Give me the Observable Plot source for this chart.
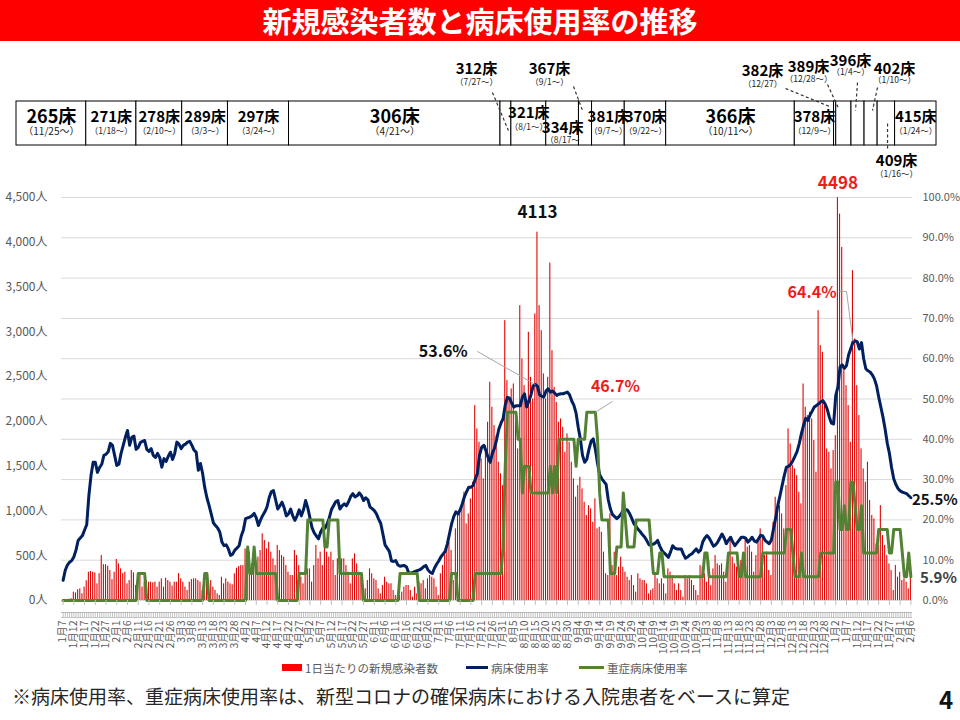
<!DOCTYPE html>
<html><head><meta charset="utf-8">
<script src="https://cdn.jsdelivr.net/npm/d3@7"></script>
<script src="https://cdn.jsdelivr.net/npm/@observablehq/plot@0.6"></script>
<style>
body{margin:0;background:#fff;font-family:"Noto Sans CJK JP","Noto Sans",sans-serif;}
#page{position:relative;width:960px;height:720px;overflow:hidden;background:#fff;}
#banner{position:absolute;left:0;top:0;width:960px;height:41px;background:#ff0000;color:#fff;font-weight:700;font-size:29px;line-height:41px;text-align:center;}
#table{position:absolute;left:0;top:50px;}
#chart{position:absolute;left:0;top:170px;}
.sw{position:absolute;}
.lt{position:absolute;top:660px;font-size:11.5px;line-height:16px;color:#595959;white-space:nowrap;}
#note{position:absolute;left:12px;top:683px;font-size:19px;line-height:26px;color:#262626;white-space:nowrap;}
#pno{position:absolute;left:939px;top:684px;font-size:24px;line-height:30px;font-weight:700;color:#111;}
</style></head>
<body>
<div id="page">
  <div id="banner">新規感染者数と病床使用率の推移</div>
  <div id="table"></div>
  <div id="chart"></div>
  <div class="sw" style="left:282px;top:664px;width:20px;height:7px;background:#ff0000"></div>
  <div class="lt" style="left:305px">1日当たりの新規感染者数</div>
  <div class="sw" style="left:466px;top:666px;width:22px;height:3px;background:#002060"></div>
  <div class="lt" style="left:491px">病床使用率</div>
  <div class="sw" style="left:579px;top:666px;width:25px;height:3px;background:#548235"></div>
  <div class="lt" style="left:607px">重症病床使用率</div>
  <div id="note">※病床使用率、重症病床使用率は、新型コロナの確保病床における入院患者をベースに算定</div>
  <div id="pno">4</div>
</div>
<script>
// ---------------- data ----------------
const firstDay = "2021-01-07";
// 1日当たりの新規感染者数 (daily, from 2021-01-07 to 2022-02-06)
const newCases = [
8,12,10,15,20,93,85,120,130,75,
150,220,316,324,316,309,186,300,502,400,
400,383,335,234,316,458,409,353,300,316,
186,223,335,309,167,260,300,150,205,223,
205,205,198,205,150,205,242,150,250,223,
205,160,205,205,300,242,205,150,112,205,
234,242,242,223,205,112,279,205,212,223,
150,112,74,56,260,186,242,205,186,175,
298,360,380,390,390,577,558,540,409,595,
446,484,558,744,670,577,651,540,465,390,
614,558,502,484,390,316,279,279,558,502,
390,260,186,335,353,353,205,390,614,465,
540,390,614,540,484,540,446,279,465,651,
465,465,390,316,186,465,521,409,316,260,
167,130,223,353,298,242,223,130,74,167,
260,205,186,186,112,56,37,
56,93,149,167,167,112,37,149,74,205,
186,223,130,242,279,260,242,149,56,298,
390,540,577,651,558,223,800,967,1004,1060,
1209,856,967,1135,1321,2176,1916,1767,1581,1358,
1730,1990,2437,2158,1953,1841,1544,1414,1283,3125,
2455,2250,2362,2418,2027,1693,3292,2697,2399,2176,
2995,2492,2250,3199,4113,3292,3013,2530,2250,2492,
3768,2790,2381,2213,1990,2027,1934,1655,1860,1767,
1544,1358,1153,1283,1376,1246,1097,949,1060,1023,874,
1135,800,818,763,540,298,279,967,390,540,
279,372,484,372,316,260,223,279,167,93,
298,242,223,223,186,74,112,130,279,242,
186,242,186,74,353,316,279,186,112,186,
112,37,279,242,279,223,167,112,56,390,
372,298,205,446,167,353,502,409,390,409,
316,205,390,688,484,409,372,260,446,390,
688,595,614,540,316,502,670,800,707,
502,540,335,279,874,1153,1042,1060,967,800,
1283,1916,1748,1507,1469,1395,1209,1079,2418,2158,
2065,2102,2027,1786,1432,3236,2846,2771,2213,1693,
1655,1469,1674,1841,4498,4315,3943,2567,2399,2176,
1767,3683,2920,2399,2065,1693,1469,1321,1544,1116,
949,911,632,614,1060,725,614,502,409,335,
112,390,260,316,223,242,205,130,428
];
// 病床使用率 (%)
const bedRate = [
5.0,7.5,8.8,9.5,9.9,10.8,12.5,14.9,15.5,16.1,
17.5,18.8,26,31,34.3,34.3,31.8,33,33.8,36,
36.3,36.9,39,38.5,36,33.5,33.8,36.5,38.5,40.5,
42.2,38.5,40.5,40.8,37.5,38,39.2,39.5,39.7,37.5,
37,37.7,36,35.5,36.5,35.5,33.1,35.2,34.5,35.8,
36.8,35,36.5,39.3,38.8,37.7,38.5,38.8,39.3,39.5,
38.5,37.3,36.8,32.3,34,31.5,28,25.5,23.6,21.5,
19.3,18.6,18,17,14.5,13.6,13.8,12.8,11.2,11.5,
12.5,13,13.6,16,17.5,20.3,20.5,20.7,21,21.6,
20.5,18.6,20,21.1,22,23.2,25.5,27,27.3,25,
22.7,23.5,24.4,23,21,21.5,22.7,21,19.9,21,
22.5,21,22.5,24.8,23,20.5,18,16.8,16,15.3,
17,18,17.9,19,20.5,22.5,23.5,24.5,24.8,22.7,
23.5,24,23.5,24.5,25.8,26.5,25.7,26,26.7,26,
24.8,25.5,25,23.2,22.8,22.3,21.5,20.2,19.1,16.5,
13.8,13,12.2,9.8,9.7,9.9,8.8,8.5,8.6,8.7,
8.3,6.9,6.8,7,7.2,7.4,7.6,7.9,8.4,8.7,
7.6,7,6.7,8,9,9.8,10.8,11.5,12.2,14,
16.5,19,20.8,22,21.5,22.5,24,25.8,27,28.1,
28.1,28.5,30,31.5,36,38,38.5,37.2,35.5,34.3,
36.5,37.8,40,42.5,44,45.1,48.5,50.4,50.2,49,
48,48.3,48.3,48.3,50.5,51.3,48,49.5,51,53.3,
53.6,53.2,51,50.7,50.5,52,52.5,51.7,52,51.5,
50.9,51.2,51.3,51.3,51.5,51.7,51,49.5,48.4,46.5,
43,40.1,36,34.3,35,37.5,39.5,40.1,37.5,34,
31.2,30.2,29.5,28.8,25,22.7,21.3,20.8,20.3,20.8,
21.5,22.5,22.6,22.4,21.5,20.3,19,18.3,17.6,17,
16.3,15.7,14.8,13.8,13.8,14,14.3,14.9,13.5,12.4,
11.8,11.3,10.7,12,13.6,13,12.8,12.8,12.8,11.5,
10.5,10.8,11.3,11.6,12.2,12.8,12,12.5,14.5,15.5,
16.1,15.5,14.5,13.5,13.8,14.5,15.5,16.5,15.5,14.1,
15,15.7,14.5,13.6,14.3,15,15.7,15.7,15.5,14.5,
15,15.7,14.8,14.5,15.3,16.2,16,15,14.5,14.1,
15,17.8,20.5,23.6,26,28.5,31,33.1,33.3,33.8,
34.7,35.8,37,39,41.4,43.5,45.2,44.7,46,47,
48,48.4,48.8,49.3,49.6,48.8,47.5,45.5,44,43.8,
50.9,53,58,58.5,57.6,58.3,61,62.5,64.1,64.4,
64.2,62.4,64,60,57.5,57,56.7,56,55,53.3,
50.5,48,45.5,42.5,39,36.5,33,30.2,28.8,27.8,
27.2,26.9,26.7,26.5,26,25.5
];
// 重症病床使用率 (%)
const severeRate = [
0,0,0,0,0,0,0,0,0,0,
0,0,0,0,0,0,0,0,0,0,
0,0,0,0,0,0,0,0,0,0,
0,0,0,0,0,6.7,6.7,6.7,6.7,0,
0,0,0,0,0,0,0,0,0,0,
0,0,0,0,0,0,0,0,0,0,
0,0,0,0,0,0,6.7,6.7,0,0,
0,0,0,0,0,0,0,0,0,0,
0,0,0,0,0,0,13.3,6.7,6.7,13.3,
6.7,6.7,6.7,6.7,6.7,6.7,6.7,6.7,6.7,6.7,
0,0,0,0,0,0,0,0,0,0,
6.7,6.7,6.7,6.7,20,20,20,20,20,20,
20,20,13.3,13.3,20,20,20,20,20,6.7,
6.7,6.7,6.7,6.7,6.7,6.7,6.7,6.7,6.7,6.7,
0,0,0,0,0,0,0,0,0,0,
0,0,0,0,0,0,0,6.7,6.7,6.7,
6.7,6.7,6.7,6.7,6.7,6.7,0,0,0,0,
0,0,0,0,0,0,0,0,0,0,
0,6.7,6.7,6.7,0,0,0,0,0,0,
0,0,6.7,6.7,6.7,6.7,6.7,6.7,6.7,6.7,
6.7,6.7,6.7,6.7,6.7,13.3,33.3,46.7,46.7,46.7,
46.7,46.7,40,40,26.7,33.3,33.3,33.3,26.7,26.7,
26.7,26.7,26.7,26.7,26.7,26.7,26.7,33.3,26.7,33.3,
26.7,40,40,40,40,40,40,40,40,33.3,
40,40,40,40,46.7,46.7,46.7,46.7,46.7,40,
26.7,20,20,20,20,6.7,6.7,6.7,13.3,13.3,
13.3,26.7,20,13.3,13.3,13.3,13.3,20,20,20,
20,20,20,20,13.3,6.7,6.7,6.7,11.8,11.8,
5.9,5.9,5.9,5.9,5.9,5.9,5.9,5.9,5.9,5.9,
5.9,5.9,5.9,5.9,5.9,5.9,5.9,5.9,5.9,11.8,
11.8,5.9,5.9,5.9,5.9,5.9,5.9,5.9,5.9,5.9,
11.8,11.8,11.8,11.8,11.8,5.9,5.9,11.8,5.9,5.9,
5.9,5.9,5.9,5.9,5.9,5.9,11.8,11.8,11.8,11.8,
11.8,11.8,11.8,11.8,11.8,11.8,11.8,17.6,17.6,17.6,
11.8,5.9,5.9,5.9,11.8,5.9,5.9,5.9,5.9,5.9,
5.9,5.9,5.9,11.8,11.8,11.8,11.8,11.8,11.8,11.8,
29.4,29.4,17.6,17.6,23.5,17.6,17.6,29.4,29.4,23.5,
17.6,17.6,23.5,11.8,11.8,11.8,11.8,11.8,11.8,11.8,
17.6,17.6,17.6,17.6,17.6,11.8,11.8,17.6,17.6,17.6,
17.6,11.8,5.9,5.9,11.8,5.9
];
// 確保病床数の推移 (table above the chart)
const bedCounts = [265,271,278,289,297,306,312,321,334,367,381,370,366,378,382,389,396,402,409,415];
const bedStarts = ["2020-11-25","2021-01-18","2021-02-10","2021-03-03","2021-03-24","2021-04-21","2021-07-27","2021-08-01","2021-08-17","2021-09-01","2021-09-07","2021-09-22","2021-10-11","2021-12-09","2021-12-27","2021-12-28","2022-01-04","2022-01-10","2022-01-16","2022-01-24"];
const bedDateLabels = ["（11/25～）","（1/18～）","（2/10～）","（3/3～）","（3/24～）","（4/21～）","（7/27～）","（8/1～）","（8/17～","（9/1～）","（9/7～）","（9/22～）","（10/11～）","（12/9～）","（12/27）","（12/28～）","（1/4～）","（1/10～）","（1/16～）","（1/24～）"];
const tableSpan = ["2020-12-17","2022-02-12"];
const yTicksCases = [0,500,1000,1500,2000,2500,3000,3500,4000,4500];
const yTicksPct = [0,10,20,30,40,50,60,70,80,90,100];

// ---------------- derived ----------------
const FONT = '"Noto Sans CJK JP","Noto Sans",sans-serif';
const parse = d3.utcParse("%Y-%m-%d");
const t0 = parse(firstDay);
const dayDate = i => d3.utcDay.offset(t0, i);
const days = d3.range(newCases.length);
const xTickDays = days.filter(i => i % 5 === 0);
const xTickLabels = xTickDays.map(i => { const d = dayDate(i); return `${d.getUTCMonth()+1}月${d.getUTCDate()}`; });
const rows = days.map(i => ({i, cases: newCases[i], bed: bedRate[i], severe: severeRate[i]}));
const K = 45; // 100% ⇔ 4,500人
const RED = "#ee1c1c";

const iPeak1 = d3.maxIndex(newCases.slice(0, 300));
const iPeak2 = d3.maxIndex(newCases);
const iBed1 = d3.maxIndex(bedRate.slice(0, 300));
const iBed2 = d3.maxIndex(bedRate);
const iSev = severeRate.lastIndexOf(d3.max(severeRate.slice(0, 300)));
const iLast = days.length - 1;
const tickLabelOf = new Map(xTickDays.map((d, k) => [d, xTickLabels[k]]));

const frameH = 490 - 27 - 60;
const chart = Plot.plot({
  width: 960, height: 490,
  marginTop: 27, marginBottom: 60, marginLeft: 61, marginRight: 48,
  style: {fontFamily: FONT, background: "transparent", overflow: "visible"},
  x: {type: "band", domain: days, padding: 0.5, axis: null},
  y: {domain: [0, 4500], axis: null},
  marks: [
    Plot.ruleY(yTicksPct.map(p => p * K), {stroke: "#d9d9d9", strokeWidth: 1}),
    Plot.barY(rows, {x: "i", y: "cases", fill: "#e00000"}),
    Plot.line(rows, {x: "i", y: d => d.bed * K, stroke: "#002060", strokeWidth: 3, strokeLinejoin: "round"}),
    Plot.line(rows, {x: "i", y: d => d.severe * K, stroke: "#548235", strokeWidth: 3, strokeLinejoin: "round"}),
    Plot.axisY(yTicksCases, {anchor: "left", label: null, tickSize: 0, tickPadding: 14, fontSize: 12, fill: "#595959",
      tickFormat: d => d3.format(",")(d) + "人"}),
    Plot.axisY(yTicksPct.map(p => p * K), {anchor: "right", label: null, tickSize: 0, tickPadding: 10, fontSize: 11, fill: "#595959",
      tickFormat: d => (d / K).toFixed(1) + "%"}),
    Plot.axisX(xTickDays, {anchor: "bottom", label: null, tickSize: 5, tickPadding: 15, tickRotate: -90, fontSize: 10.5,
      fill: "#595959", stroke: "#bfbfbf", tickFormat: d => tickLabelOf.get(d)}),
    // category comb under the axis
    Plot.tickX(days, {x: d => d, stroke: "#9a9a9a", strokeWidth: 0.6, insetTop: frameH - 5, dy: 17}),
    Plot.ruleY([0], {stroke: "#9a9a9a", strokeWidth: 0.6, dy: 12}),
    Plot.ruleY([0], {stroke: "#9a9a9a", strokeWidth: 0.6, dy: 17}),
    // annotations
    Plot.text([iPeak1], {x: d => d, y: d => newCases[d], text: d => String(newCases[d]), dy: -20, fontSize: 17, fontWeight: "bold", fill: "#111"}),
    Plot.text([iPeak2], {x: d => d, y: d => newCases[d], text: d => String(newCases[d]), dy: -14, fontSize: 17, fontWeight: "bold", fill: RED}),
    Plot.link([{a: iBed1 - 27, pa: bedRate[iBed1] + 8.2, b: iBed1, pb: bedRate[iBed1]}],
      {x1: "a", y1: d => d.pa * K, x2: "b", y2: d => d.pb * K, stroke: "#a6a6a6", strokeWidth: 1}),
    Plot.text([iBed1], {x: d => d, y: d => bedRate[d] * K, text: d => bedRate[d].toFixed(1) + "%", dx: -92, dy: -33, fontSize: 16, fontWeight: "bold", fill: "#111"}),
    Plot.link([{a: iSev + 8, pa: severeRate[iSev] + 2.7, b: iSev, pb: severeRate[iSev]}],
      {x1: "a", y1: d => d.pa * K, x2: "b", y2: d => d.pb * K, stroke: "#a6a6a6", strokeWidth: 1}),
    Plot.text([iSev], {x: d => d, y: d => severeRate[d] * K, text: d => severeRate[d].toFixed(1) + "%", dx: 20, dy: -25, fontSize: 16, fontWeight: "bold", fill: RED}),
    Plot.line([{i: iBed2 - 7, p: bedRate[iBed2] + 12.3}, {i: iBed2 - 4, p: bedRate[iBed2] + 12.3}, {i: iBed2 - 1, p: bedRate[iBed2]}],
      {x: "i", y: d => d.p * K, stroke: "#a6a6a6", strokeWidth: 1}),
    Plot.text([iBed2], {x: d => d, y: d => bedRate[d] * K, text: d => bedRate[d].toFixed(1) + "%", dx: -43, dy: -48, fontSize: 16, fontWeight: "bold", fill: RED}),
    Plot.text([iLast], {x: d => d, y: d => bedRate[d] * K, text: d => bedRate[d].toFixed(1) + "%", dx: 1, dy: 2, textAnchor: "start", fontSize: 15, fontWeight: "bold", fill: "#111"}),
    Plot.text([iLast], {x: d => d, y: d => severeRate[d] * K, text: d => severeRate[d].toFixed(1) + "%", dx: 9, dy: 1, textAnchor: "start", fontSize: 15, fontWeight: "bold", fill: "#404040"})
  ]
});
document.getElementById("chart").append(chart);

// ---------------- bed table ----------------
const T0 = parse(tableSpan[0]);
const dnum = s => (parse(s) - T0) / 864e5;
const Tend = dnum(tableSpan[1]);
const pxPerDay = (960 - 16 - 24) / Tend;
const cells = bedCounts.map((b, k) => {
  const s = dnum(bedStarts[k]);
  const e = k < bedCounts.length - 1 ? dnum(bedStarts[k + 1]) : Tend;
  return {beds: b, s, e, cx: (Math.max(s, 0) + e) / 2, dur: e - s, date: bedDateLabels[k]};
});
// layout of labels (svg px)
const insideY = {321: [63, 77], 334: [78, 90]};
const outsideStyle = {
  312: {dx: -29.5, y: 19, yd: 32, lead: [[-13.5, 42], [2.5, 80]]},
  367: {dx: -36, y: 19, yd: 32, lead: [[-12, 36], [-3, 60]]},
  382: {dx: -72.6, y: 21, yd: 34, lead: [[-49.6, 38], [-5.6, 56]]},
  389: {dx: -35.3, y: 17, yd: 29, lead: [[-16.3, 34], [-5.3, 58]]},
  396: {dx: -7.5, y: 11, yd: 22, lead: [[-0.5, 32], [-2.5, 60]]},
  402: {dx: 23.4, y: 19, yd: 30, lead: [[6.4, 37], [1.4, 60]]},
  409: {dx: 10.2, y: 111, yd: 124, lead: [[1.2, 73], [1.2, 98]]}
};
const inside = cells.filter(c => !outsideStyle[c.beds]);
const outside = cells.filter(c => outsideStyle[c.beds]).map(c => {
  const st = outsideStyle[c.beds];
  return {...c, lx: c.cx + st.dx / pxPerDay, ly: st.y, ld: st.yd};
});
const leaders = cells.filter(c => outsideStyle[c.beds]).map(c => {
  const st = outsideStyle[c.beds];
  return {x1: c.cx + st.lead[0][0] / pxPerDay, y1: st.lead[0][1], x2: c.cx + st.lead[1][0] / pxPerDay, y2: st.lead[1][1]};
});
const big = c => c.dur >= 50;
const table = Plot.plot({
  width: 960, height: 140,
  marginLeft: 16, marginRight: 24, marginTop: 0, marginBottom: 0,
  style: {fontFamily: FONT, background: "transparent", overflow: "visible"},
  x: {domain: [0, Tend], clamp: true, axis: null},
  y: {domain: [0, 140], range: [0, 140], axis: null},
  marks: [
    Plot.rect(cells, {x1: "s", x2: "e", y1: 51, y2: 95, fill: "white", stroke: "#000", strokeWidth: 1}),
    Plot.text(inside, {x: "cx", y: c => (insideY[c.beds] || [67, 81])[0], text: c => c.beds + "床",
      fontSize: c => big(c) ? 18 : 15, fontWeight: "bold", fill: "#000"}),
    Plot.text(inside, {x: "cx", y: c => (insideY[c.beds] || [67, 81])[1], text: "date",
      fontSize: c => big(c) ? 10 : 8.5, fill: "#222"}),
    Plot.link(leaders, {x1: "x1", y1: "y1", x2: "x2", y2: "y2", stroke: "#333", strokeWidth: 1.2, strokeDasharray: "3,2.5"}),
    Plot.text(outside, {x: "lx", y: "ly", text: c => c.beds + "床", fontSize: 15, fontWeight: "bold", fill: "#000"}),
    Plot.text(outside, {x: "lx", y: "ld", text: "date", fontSize: 8.5, fill: "#222"})
  ]
});
document.getElementById("table").append(table);
</script>
</body></html>
